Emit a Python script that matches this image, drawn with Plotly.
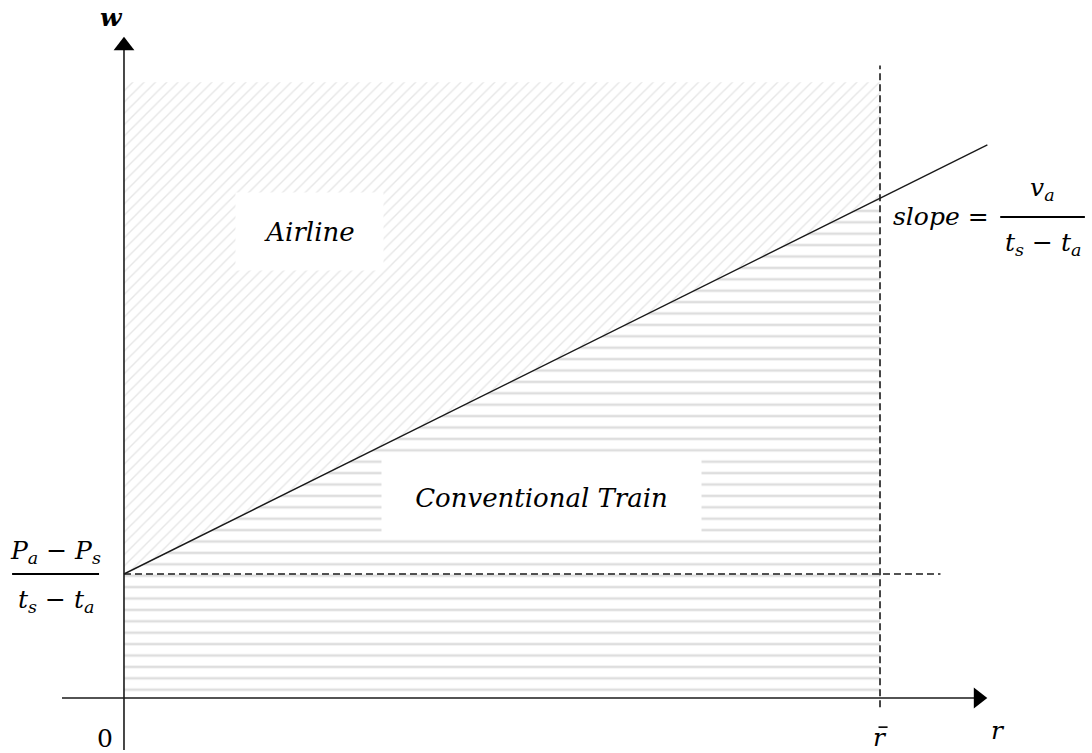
import plotly.graph_objects as go

# Model parameters (arbitrary units)
r_bar = 10.0          # maximum distance
w_top = 9.93          # upper bound of the shaded area
intercept = 2.0       # (Pa - Ps) / (ts - ta)
slope = 0.606         # va / (ts - ta)
r_line_end = 11.42    # where the indifference line stops

# Axis extents
x_axis_start, x_axis_end = -0.82, 11.30
y_axis_start, y_axis_end = -0.84, 10.52
h_dash_end = 10.8
v_dash_range = [-0.15, 10.2]

x_range = [-1.640, 12.804]
y_range = [-0.887, 11.258]

w_at_rbar = intercept + slope * r_bar
w_at_end = intercept + slope * r_line_end

INK = "#1a1a1a"
SERIF = "DejaVu Serif"

fig = go.Figure()

# Airline region: above the indifference line
fig.add_trace(go.Scatter(
    x=[0, 0, r_bar, r_bar, 0],
    y=[intercept, w_top, w_top, w_at_rbar, intercept],
    fill="toself", mode="none", hoverinfo="skip",
    fillcolor="white",
    fillpattern=dict(shape="/", fgcolor="#cdcdcd", bgcolor="white",
                     size=8, solidity=0.17),
))

# Conventional train region: below the indifference line
fig.add_trace(go.Scatter(
    x=[0, 0, r_bar, r_bar, 0],
    y=[0, intercept, w_at_rbar, 0, 0],
    fill="toself", mode="none", hoverinfo="skip",
    fillcolor="white",
    fillpattern=dict(shape="-", fgcolor="#bdbdbd", bgcolor="white",
                     size=11.4, solidity=0.22),
))

# Dashed guides
fig.add_trace(go.Scatter(
    x=[0, h_dash_end], y=[intercept, intercept], mode="lines",
    line=dict(color=INK, width=1.6, dash="7px,4px"), hoverinfo="skip"))
fig.add_trace(go.Scatter(
    x=[r_bar, r_bar], y=v_dash_range, mode="lines",
    line=dict(color=INK, width=1.6, dash="7px,4px"), hoverinfo="skip"))

# Indifference line
fig.add_trace(go.Scatter(
    x=[0, r_line_end], y=[intercept, w_at_end], mode="lines",
    line=dict(color=INK, width=1.4), hoverinfo="skip"))

# Axes with arrowheads
fig.add_trace(go.Scatter(
    x=[x_axis_start, x_axis_end], y=[0, 0], mode="lines",
    line=dict(color=INK, width=1.6), hoverinfo="skip"))
fig.add_trace(go.Scatter(
    x=[0, 0], y=[y_axis_start, y_axis_end], mode="lines",
    line=dict(color=INK, width=1.6), hoverinfo="skip"))
fig.add_trace(go.Scatter(
    x=[x_axis_end], y=[0], mode="markers",
    marker=dict(symbol="triangle-right", size=18, color="black"), hoverinfo="skip"))
fig.add_trace(go.Scatter(
    x=[0], y=[y_axis_end], mode="markers",
    marker=dict(symbol="triangle-up", size=18, color="black"), hoverinfo="skip"))

# Fraction bars
fig.add_trace(go.Scatter(
    x=[-1.48, -0.33], y=[intercept, intercept], mode="lines",
    line=dict(color="black", width=2), hoverinfo="skip"))
fig.add_trace(go.Scatter(
    x=[11.59, 12.71], y=[7.76, 7.76], mode="lines",
    line=dict(color="black", width=2), hoverinfo="skip"))

# Bar over the r-bar label
fig.add_trace(go.Scatter(
    x=[r_bar - 0.02, r_bar + 0.1], y=[-0.47, -0.47], mode="lines",
    line=dict(color="black", width=1.6), hoverinfo="skip"))

ann = []

def label(x, y, text, size=24, **kw):
    ann.append(dict(x=x, y=y, xref="x", yref="y", text=text, showarrow=False,
                    font=dict(family=SERIF, size=size, color="black"), **kw))

# Region labels on white boxes
label(2.46, 7.52, "<i>Airline</i>", size=26, bgcolor="white", width=145, height=75)
label(5.52, 3.23, "<i>Conventional Train</i>", size=26, bgcolor="white", width=317, height=77)

# Intercept label
label(-0.9, 2.36, "<i>P</i><sub><i>a</i></sub> − <i>P</i><sub><i>s</i></sub>", size=25)
label(-0.9, 1.57, "<i>t</i><sub><i>s</i></sub> − <i>t</i><sub><i>a</i></sub>", size=25)

# Slope label
label(10.81, 7.76, "<i>slope</i> =", size=25)
label(12.15, 8.21, "<i>v</i><sub><i>a</i></sub>", size=25)
label(12.15, 7.33, "<i>t</i><sub><i>s</i></sub> − <i>t</i><sub><i>a</i></sub>", size=25)

# Axis labels
label(-0.16, 10.97, "<b><i>w</i></b>", size=25)
label(11.56, -0.52, "<i>r</i>", size=25)
label(-0.25, -0.66, "0", size=25)
label(r_bar, -0.64, "<i>r</i>", size=25)

fig.update_layout(
    width=1092, height=753,
    margin=dict(l=0, r=0, t=0, b=0),
    paper_bgcolor="white", plot_bgcolor="white",
    showlegend=False,
    xaxis=dict(range=x_range, visible=False, fixedrange=True),
    yaxis=dict(range=y_range, visible=False, fixedrange=True),
    annotations=ann,
)

fig.write_html("out.html")
